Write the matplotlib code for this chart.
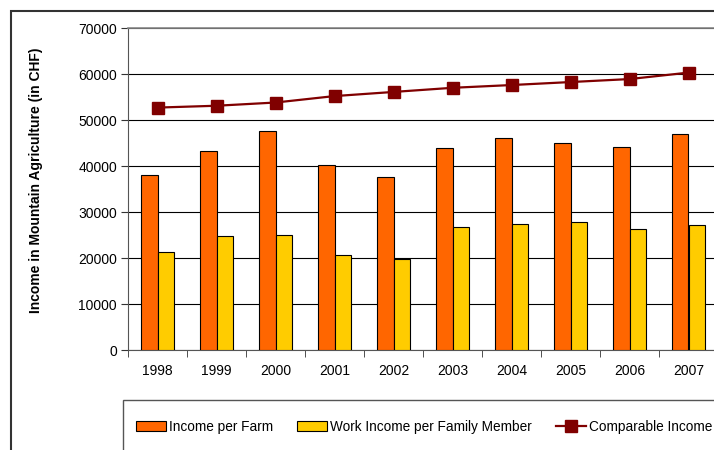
import matplotlib.pyplot as plt
from matplotlib.patches import Rectangle
import numpy as np

plt.rcParams['font.family'] = ['Liberation Sans', 'DejaVu Sans']

years = ['1998', '1999', '2000', '2001', '2002', '2003', '2004', '2005', '2006', '2007']
income_farm = [38000, 43300, 47700, 40200, 37600, 44000, 46100, 44950, 44050, 46950]
work_income = [21400, 24800, 25100, 20700, 19800, 26700, 27400, 27900, 26400, 27100]
comparable = [52700, 53100, 53800, 55200, 56100, 57000, 57600, 58250, 58900, 60300]

W, H = 714, 450
fig = plt.figure(figsize=(W / 100, H / 100), dpi=100)

# outer frame of the chart object
fig.patches.append(Rectangle((11 / W, -0.1), 1.0, 1 - 11 / H + 0.1, transform=fig.transFigure,
                             fill=False, edgecolor='#333333', lw=1.5))
# legend frame
fig.patches.append(Rectangle((123 / W, -0.1), 1.0, 0.1 + 1 - 400 / H, transform=fig.transFigure,
                             fill=False, edgecolor='#555555', lw=1.0))

ax = fig.add_axes([128 / W, 100 / H, 590 / W, 322 / H])
x = np.arange(len(years))
bw = 0.283
b1 = ax.bar(x - bw / 2, income_farm, bw, color='#ff6600', edgecolor='black', lw=0.8, zorder=3)
b2 = ax.bar(x + bw / 2, work_income, bw, color='#ffcc00', edgecolor='black', lw=0.8, zorder=3)
ln, = ax.plot(x, comparable, '-s', color='#800000', lw=1.6, ms=8.5, zorder=4)

ax.set_xlim(-0.5, len(years) - 0.5)
ax.set_ylim(0, 70000)
ax.set_yticks(range(0, 70001, 10000))
ax.tick_params(axis='y', labelsize=10, length=5, color='#333333', pad=3)
ax.set_xticks(x)
ax.set_xticklabels(years)
ax.set_xticks(np.arange(-0.5, len(years), 1), minor=True)
ax.tick_params(axis='x', which='major', length=0, labelsize=10, pad=10)
ax.tick_params(axis='x', which='minor', length=5, color='#333333')
ax.yaxis.grid(True, color='black', lw=0.8, zorder=0)
ax.set_axisbelow(True)
for s in ['top', 'right']:
    ax.spines[s].set_color('#888888')
    ax.spines[s].set_linewidth(1.2)
for s in ['left', 'bottom']:
    ax.spines[s].set_color('#555555')
ax.set_ylabel('Income in Mountain Agriculture (in CHF)', fontsize=10, fontweight='bold')
ax.yaxis.set_label_coords(-0.144, 0.527)

leg = fig.legend([b1, b2, ln], ['Income per Farm', 'Work Income per Family Member', 'Comparable Income'],
                 ncol=3, loc='center left',
                 bbox_to_anchor=(136 / W, 1 - 427 / H), fontsize=9.8, frameon=False,
                 borderpad=0, borderaxespad=0,
                 handlelength=2.2, handletextpad=0.2, columnspacing=1.8, handleheight=0.7)

fig.savefig('out.png', dpi=100)
